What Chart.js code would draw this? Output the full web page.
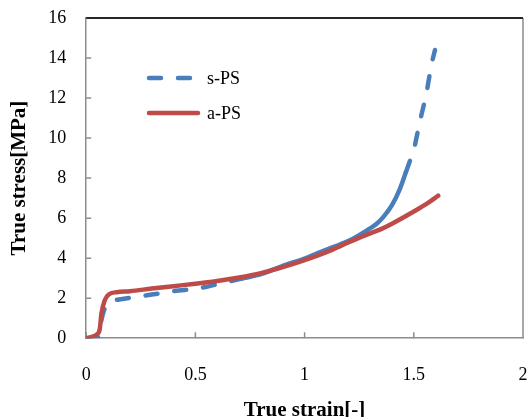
<!DOCTYPE html>
<html>
<head>
<meta charset="utf-8">
<script src="https://cdn.jsdelivr.net/npm/chart.js@4"></script>
<style>
    body { margin: 0; background: #fff; }
    #wrap { width: 532px; height: 417px; }
</style>
</head>
<body>
<div id="wrap"><canvas id="stressChart" width="532" height="417"></canvas></div>
<script>
const seriesNames = ['s-PS', 'a-PS'];

// s-PS (blue, dashed)
const sStrain = [0, 0.04, 0.06, 0.07, 0.085, 0.108, 0.15, 0.2, 0.3, 0.4, 0.52, 0.6, 0.72, 0.8, 0.9, 1.0, 1.06, 1.13, 1.2, 1.28, 1.33, 1.36, 1.4, 1.436, 1.464, 1.482, 1.497, 1.512, 1.535, 1.555, 1.566, 1.581, 1.597];
const sStress = [0, 0.02, 0.1, 0.9, 1.5, 1.83, 1.93, 2.02, 2.18, 2.35, 2.5, 2.7, 3.0, 3.2, 3.62, 3.98, 4.25, 4.55, 4.85, 5.35, 5.72, 6.05, 6.65, 7.45, 8.3, 8.85, 9.25, 10.0, 11.17, 12.08, 12.75, 13.67, 14.4];

// a-PS (red, solid)
const aStrain = [0, 0.03, 0.05, 0.062, 0.07, 0.085, 0.105, 0.14, 0.2, 0.3, 0.4, 0.5, 0.6, 0.7, 0.8, 0.9, 1.0, 1.1, 1.2, 1.28, 1.35, 1.4, 1.5, 1.56, 1.612];
const aStress = [0, 0.08, 0.2, 0.45, 1.25, 1.9, 2.2, 2.3, 2.35, 2.48, 2.6, 2.72, 2.86, 3.03, 3.25, 3.55, 3.9, 4.3, 4.78, 5.15, 5.45, 5.72, 6.33, 6.72, 7.12];

const xTicks = [0, 0.5, 1, 1.5, 2];
const yTicks = [0, 2, 4, 6, 8, 10, 12, 14, 16];

const colors = {
    blue: '#4a7ebb',
    red: '#be4b48',
    frame: '#8c8c8c',
    top: '#262626'
};
const serif = "'Liberation Serif', 'Times New Roman', serif";
// the dense middle part of the s-PS curve renders as a solid stroke in the original
const solidFrom = 0.7, solidTo = 1.465;

function toPoints(xs, ys) {
    return xs.map((x, i) => ({ x: x, y: ys[i] }));
}

// frame + inward tick marks like the original
const framePlugin = {
    id: 'frame',
    beforeDatasetsDraw(chart) {
        const { ctx, chartArea: a, scales } = chart;
        ctx.save();
        ctx.lineWidth = 1.5;
        ctx.strokeStyle = colors.frame;
        ctx.beginPath();
        ctx.moveTo(a.right, a.top);
        ctx.lineTo(a.right, a.bottom);
        xTicks.forEach(v => {
            const px = scales.x.getPixelForValue(v);
            ctx.moveTo(px, a.bottom);
            ctx.lineTo(px, a.bottom - 6);
        });
        yTicks.forEach(v => {
            const py = scales.y.getPixelForValue(v);
            ctx.moveTo(a.left, py);
            ctx.lineTo(a.left + 5, py);
        });
        ctx.stroke();
        ctx.strokeStyle = colors.top;
        ctx.lineWidth = 2;
        ctx.beginPath();
        ctx.moveTo(a.left, a.top);
        ctx.lineTo(a.right, a.top);
        ctx.stroke();
        ctx.restore();
    }
};

// legend sitting inside the plot
const innerLegend = {
    id: 'innerLegend',
    afterDraw(chart) {
        const ctx = chart.ctx;
        const rows = [{ y: 78 }, { y: 113 }];
        ctx.save();
        chart.data.datasets.forEach((ds, i) => {
            const y = rows[i].y;
            ctx.strokeStyle = ds.borderColor;
            ctx.lineWidth = ds.borderWidth;
            ctx.lineCap = 'round';
            ctx.setLineDash(ds.borderDash || []);
            ctx.beginPath();
            ctx.moveTo(149, y);
            ctx.lineTo(198, y);
            ctx.stroke();
            ctx.setLineDash([]);
            ctx.fillStyle = '#000';
            ctx.font = '18px ' + serif;
            ctx.textBaseline = 'middle';
            ctx.fillText(ds.label, 207, y + 1);
        });
        ctx.restore();
    }
};

new Chart(document.getElementById('stressChart'), {
    type: 'scatter',
    data: {
        datasets: [{
            label: seriesNames[0],
            data: toPoints(sStrain, sStress),
            showLine: true,
            borderColor: colors.blue,
            borderWidth: 4.5,
            borderDash: [12, 17],
            borderCapStyle: 'round',
            pointRadius: 0,
            cubicInterpolationMode: 'monotone',
            segment: {
                borderDash: c => (c.p0.parsed.x >= solidFrom && c.p1.parsed.x <= solidTo) ? [] : undefined
            },
            order: 1
        }, {
            label: seriesNames[1],
            data: toPoints(aStrain, aStress),
            showLine: true,
            borderColor: colors.red,
            borderWidth: 4.5,
            borderCapStyle: 'round',
            pointRadius: 0,
            cubicInterpolationMode: 'monotone',
            order: 0
        }]
    },
    options: {
        responsive: false,
        animation: false,
        layout: { padding: { top: 18, right: 9, left: 8, bottom: 0 } },
        plugins: { legend: { display: false }, tooltip: { enabled: false } },
        scales: {
            x: {
                type: 'linear',
                min: 0,
                max: 2,
                afterBuildTicks: s => { s.ticks = xTicks.map(v => ({ value: v })); },
                grid: { drawOnChartArea: false, drawTicks: true, tickLength: 24, tickColor: 'rgba(0,0,0,0)' },
                border: { color: colors.frame, width: 1.5 },
                ticks: { color: '#000', padding: 2, font: { family: serif, size: 18 }, callback: v => String(v) },
                title: {
                    display: true,
                    text: 'True strain[-]',
                    color: '#000',
                    font: { family: serif, size: 21, weight: 'bold' },
                    padding: { top: 10, bottom: -6 }
                }
            },
            y: {
                min: 0,
                max: 16,
                afterBuildTicks: s => { s.ticks = yTicks.map(v => ({ value: v })); },
                grid: { drawOnChartArea: false, drawTicks: true, tickLength: 18, tickColor: 'rgba(0,0,0,0)' },
                border: { color: colors.frame, width: 1.5 },
                ticks: { color: '#000', padding: 2, font: { family: serif, size: 18 }, callback: v => String(v) },
                title: {
                    display: true,
                    text: 'True stress[MPa]',
                    color: '#000',
                    font: { family: serif, size: 21, weight: 'bold' },
                    padding: { top: -1, bottom: 14 }
                }
            }
        }
    },
    plugins: [framePlugin, innerLegend]
});
</script>
</body>
</html>
